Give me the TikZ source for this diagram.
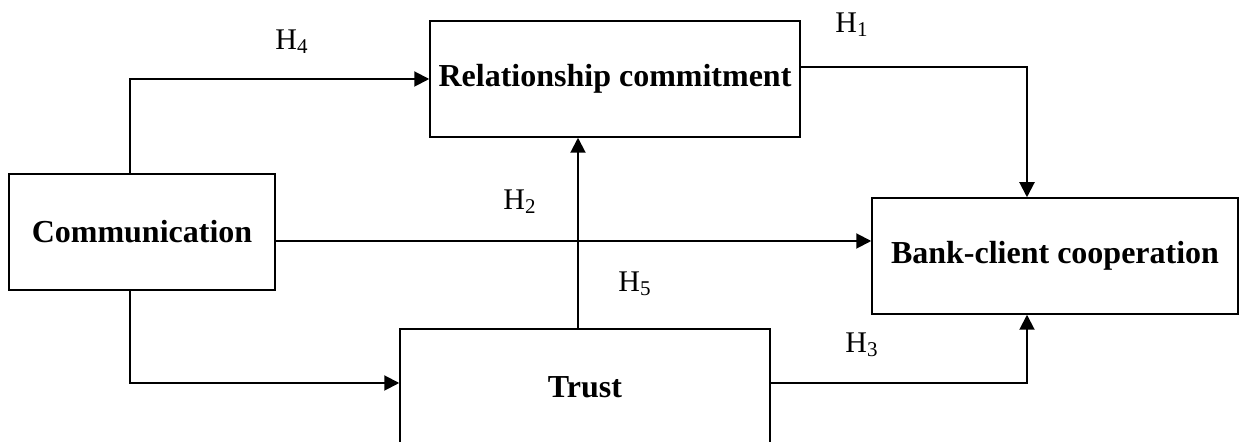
\documentclass[tikz,border=0pt]{standalone}
\usepackage{fontspec}
\setmainfont{Liberation Serif}
\usetikzlibrary{arrows.meta}

\begin{document}
\begin{tikzpicture}[x=0.5pt,y=-0.5pt]
\tikzstyle{box}=[draw,line width=0.75pt,inner sep=0pt,font=\fontsize{16}{18}\selectfont\bfseries]
\tikzstyle{link}=[line width=1pt,-{Triangle[length=7.5pt,width=7.5pt]}]
\tikzstyle{hyp}=[font=\fontsize{15}{17}\selectfont]
\useasboundingbox (0,0) rectangle (1239,442);
\clip (0,0) rectangle (1239,442);
\node[box,minimum width=133pt,minimum height=58pt] (comm) at (142,232) {Communication};
\node[box,minimum width=185pt,minimum height=58pt] (rc) at (615,79) {Relationship commitment};
\node[box,minimum width=183pt,minimum height=58pt] (bank) at (1055,256) {Bank-client cooperation};
\node[box,minimum width=185pt,minimum height=58pt] (trust) at (585,387) {Trust};
\node[hyp] (h4) at (292,42) {H\textsubscript{4}};
\node[hyp] (h1) at (852,25) {H\textsubscript{1}};
\node[hyp] (h2) at (520,202) {H\textsubscript{2}};
\node[hyp] (h5) at (635,284) {H\textsubscript{5}};
\node[hyp] (h3) at (862,345) {H\textsubscript{3}};
\draw[link] ([xshift=-6pt]comm.north) |- (rc.west);
\draw[link] ([xshift=-6pt]comm.south) |- ([yshift=2pt]trust.west);
\draw[link] ([yshift=-4.5pt]comm.east) -- ([yshift=-4.5pt]comm.east -| bank.west);
\draw[link] ([xshift=-3.5pt]trust.north) -- ([xshift=-3.5pt]trust.north |- rc.south);
\draw[link] ([yshift=6pt]rc.east) -| ([xshift=-14pt]bank.north);
\draw[link] ([yshift=2pt]trust.east) -| ([xshift=-14pt]bank.south);
\end{tikzpicture}
\end{document}
